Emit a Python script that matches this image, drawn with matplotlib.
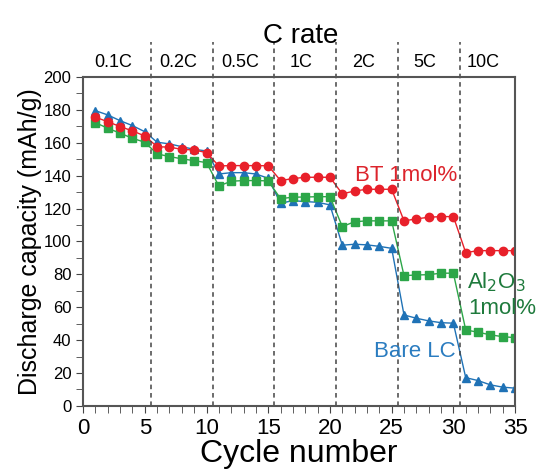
import matplotlib
matplotlib.use("Agg")
import matplotlib.pyplot as plt
import numpy as np
from matplotlib.ticker import MultipleLocator

plt.rcParams['font.family'] = ['Liberation Sans', 'DejaVu Sans']

cycles = np.arange(1, 36)
bt = [175.5, 172.8, 169.8, 167.2, 164.1,
      157.6, 157.3, 156.0, 155.6, 154.0,
      145.9, 146.1, 146.1, 146.1, 146.0,
      137.0, 138.2, 139.0, 139.0, 139.0,
      128.9, 130.7, 131.7, 131.7, 131.7,
      112.5, 113.7, 114.7, 115.1, 115.1,
      93.2, 94.4, 94.4, 94.4, 94.4]
al2o3 = [172.2, 168.8, 165.8, 162.7, 160.3,
         153.2, 151.6, 150.2, 149.1, 147.9,
         133.7, 136.6, 137.0, 137.0, 136.8,
         126.0, 126.9, 127.0, 127.2, 127.2,
         109.0, 112.0, 112.5, 112.5, 112.5,
         79.2, 79.6, 79.8, 80.7, 80.7,
         46.2, 44.8, 43.2, 42.1, 41.5]
bare = [179.5, 176.9, 173.4, 170.4, 166.7,
        160.3, 159.3, 157.6, 156.0, 155.0,
        141.0, 141.8, 141.8, 141.0, 138.4,
        123.2, 124.8, 124.2, 123.8, 122.2,
        97.7, 98.3, 97.9, 97.0, 95.8,
        55.3, 53.3, 51.7, 50.6, 50.3,
        17.2, 15.4, 12.8, 11.4, 10.8]
rates = ['0.1C', '0.2C', '0.5C', '1C', '2C', '5C', '10C']
boundaries = [5.5, 10.5, 15.5, 20.5, 25.5, 30.5]

red = '#e8202a'
green = '#2ca648'
blue = '#1f72b6'

fig = plt.figure(figsize=(5.36, 4.72), dpi=100)
ax = fig.add_axes([0.155, 0.140, 0.806, 0.697])

ax.plot(cycles, bare, '-^', color=blue, ms=5.5, lw=1)
ax.plot(cycles, al2o3, '-s', color=green, ms=5.5, lw=1)
ax.plot(cycles, bt, '-o', color=red, ms=6, lw=1)

ax.vlines(boundaries, 0, 221, colors='#444444', linestyles=(0, (3, 2.5)),
          lw=1.1, clip_on=False)

edges = [0] + boundaries + [35]
for i, r in enumerate(rates):
    xc = (edges[i] + edges[i + 1]) / 2 - 0.3
    ax.text(xc, 209, r, ha='center', va='center', fontsize=13, clip_on=False)
ax.text(17.6, 225, 'C rate', ha='center', va='center', fontsize=20)

ax.text(26.2, 140, 'BT 1mol%', color='#dc242c', fontsize=16, ha='center', va='center')
ax.text(31.1, 75, 'Al$_2$O$_3$', color='#1e7a3c', fontsize=16, ha='left', va='center')
ax.text(31.2, 59.5, '1mol%', color='#1e7a3c', fontsize=16, ha='left', va='center')
ax.text(26.9, 33, 'Bare LC', color='#2a7cc0', fontsize=16, ha='center', va='center')

ax.set_xlim(0, 35)
ax.set_ylim(0, 200)
ax.xaxis.set_major_locator(MultipleLocator(5))
ax.xaxis.set_minor_locator(MultipleLocator(1))
ax.yaxis.set_major_locator(MultipleLocator(20))
ax.yaxis.set_minor_locator(MultipleLocator(10))
ax.tick_params(axis='x', which='both', direction='out', labelsize=16, colors='#444444',
               labelcolor='black', pad=4)
ax.tick_params(axis='x', which='both', length=5)
ax.tick_params(axis='y', which='both', direction='out', labelsize=12, colors='#444444',
               labelcolor='black')
ax.tick_params(axis='y', which='both', length=5)
for s in ax.spines.values():
    s.set_color('#555555')
    s.set_linewidth(1.5)

ax.set_xlabel('Cycle number', fontsize=23, labelpad=0)
ax.set_ylabel('Discharge capacity (mAh/g)', fontsize=18, labelpad=1)

fig.savefig('out.png', dpi=100)
